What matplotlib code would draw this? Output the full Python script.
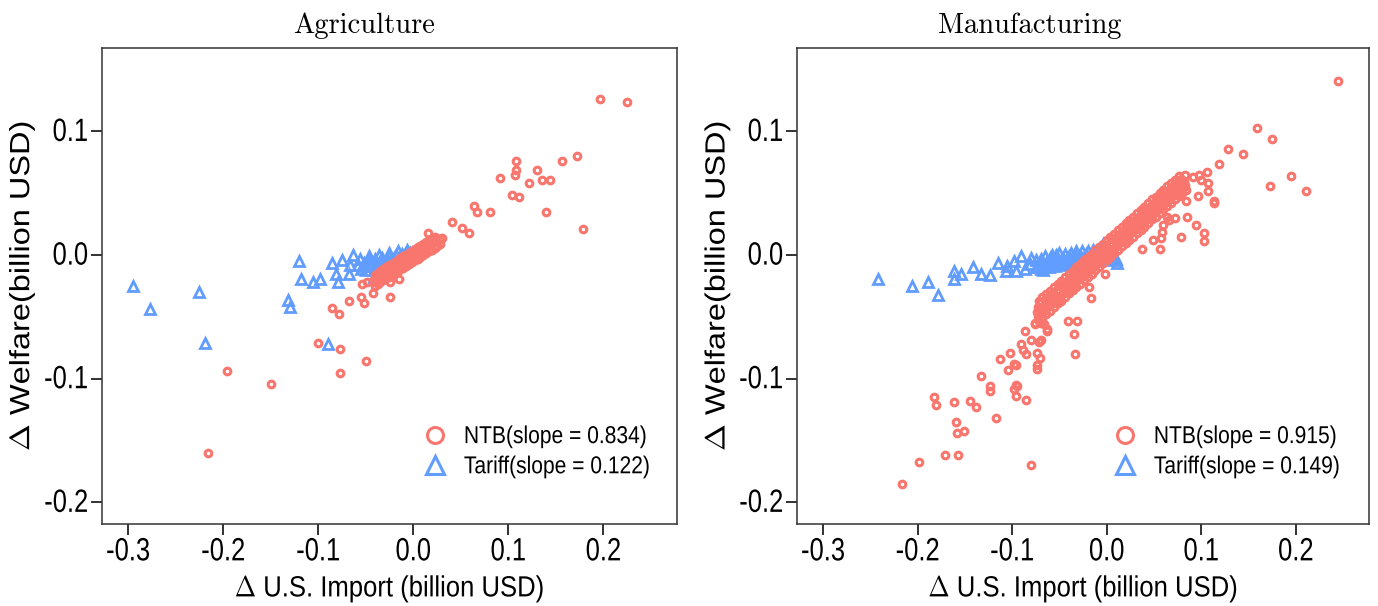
import numpy as np
import matplotlib
matplotlib.use("Agg")
import matplotlib.pyplot as plt
from matplotlib.lines import Line2D
from matplotlib.patheffects import AbstractPathEffect
from matplotlib.transforms import Affine2D

plt.rcParams['mathtext.fontset'] = 'cm'

RED = '#F8766D'
BLUE = '#619CFF'
SANS = ['Liberation Sans', 'DejaVu Sans']


class Squeeze(AbstractPathEffect):
    """Draw a text path narrower/wider (sx) or flatter/taller (sy), keeping one side fixed."""

    def __init__(self, sx=1.0, sy=1.0, anchor='center'):
        super().__init__()
        self.sx, self.sy, self.anchor = sx, sy, anchor

    def draw_path(self, renderer, gc, tpath, affine, rgbFace=None):
        v = tpath.vertices
        x0, x1 = (v[:, 0].min(), v[:, 0].max()) if len(v) else (0, 0)
        ref = {'left': x0, 'center': 0.5 * (x0 + x1), 'right': x1}[self.anchor]
        pre = Affine2D().translate(-ref, 0).scale(self.sx, self.sy).translate(ref, 0)
        renderer.draw_path(gc, tpath, pre + affine, rgbFace)


# ---- Agriculture ----
agri_ntb = [
    (0.197, 0.126), (0.225, 0.124), (0.172, 0.080), (0.157, 0.076), (0.108, 0.076),
    (0.108, 0.069), (0.107, 0.065), (0.130, 0.069), (0.135, 0.061), (0.144, 0.061),
    (0.122, 0.058), (0.091, 0.062), (0.104, 0.049), (0.111, 0.047), (0.140, 0.035),
    (0.179, 0.021), (0.081, 0.035), (0.064, 0.040), (0.067, 0.035), (0.041, 0.027),
    (0.051, 0.022), (0.059, 0.018), (0.015, 0.018),
    (-0.196, -0.094), (-0.150, -0.104), (-0.216, -0.160),
    (-0.100, -0.071), (-0.077, -0.076), (-0.077, -0.095), (-0.050, -0.086),
    (-0.086, -0.043), (-0.078, -0.048), (-0.068, -0.037),
    (-0.055, -0.034), (-0.052, -0.039), (-0.054, -0.023), (-0.049, -0.022),
    (-0.042, -0.031), (-0.024, -0.022), (-0.024, -0.034), (-0.015, -0.019),
    # band through the origin
    (-0.042, -0.021), (-0.039, -0.019), (-0.036, -0.018), (-0.033, -0.017), (-0.030, -0.015),
    (-0.027, -0.014), (-0.024, -0.012), (-0.021, -0.011), (-0.018, -0.009), (-0.015, -0.008),
    (-0.012, -0.006), (-0.009, -0.005), (-0.006, -0.003), (-0.003, -0.002), (0.000, -0.001),
    (0.003, 0.001), (0.006, 0.002), (0.009, 0.004), (0.012, 0.005), (0.015, 0.007),
    (0.018, 0.008), (0.021, 0.010), (0.024, 0.011), (0.027, 0.013), (0.030, 0.014),
    (-0.0405, -0.0157), (-0.0375, -0.0142), (-0.0345, -0.0128), (-0.0315, -0.0113),
    (-0.0285, -0.0099), (-0.0255, -0.0084), (-0.0225, -0.0069), (-0.0195, -0.0055),
    (-0.0165, -0.0040), (-0.0135, -0.0026), (-0.0105, -0.0011), (-0.0075, 0.0003),
    (-0.0045, 0.0018), (-0.0015, 0.0032), (0.0015, 0.0047), (0.0045, 0.0062),
    (0.0075, 0.0076), (0.0105, 0.0091), (0.0135, 0.0105), (0.0165, 0.0120),
    (0.0195, 0.0134), (0.0225, 0.0149),
    (-0.0405, -0.0247), (-0.0375, -0.0232), (-0.0345, -0.0218), (-0.0315, -0.0203),
    (-0.0285, -0.0189), (-0.0255, -0.0174), (-0.0225, -0.0159), (-0.0195, -0.0145),
    (-0.0165, -0.0130), (-0.0135, -0.0116), (-0.0105, -0.0101), (-0.0075, -0.0087),
    (-0.0045, -0.0072), (-0.0015, -0.0057), (0.0015, -0.0043), (0.0045, -0.0028),
    (0.0075, -0.0014), (0.0105, 0.0001), (0.0135, 0.0015), (0.0165, 0.0030),
    (0.0195, 0.0044), (0.0225, 0.0059), (0.0255, 0.0073), (0.0285, 0.0088),
]

agri_tariff = [
    (-0.295, -0.025), (-0.277, -0.044), (-0.225, -0.030), (-0.219, -0.071),
    (-0.132, -0.036), (-0.130, -0.042), (-0.120, -0.005), (-0.118, -0.019),
    (-0.105, -0.022), (-0.098, -0.019), (-0.090, -0.072),
    (-0.085, -0.006), (-0.075, -0.004), (-0.063, 0.000), (-0.067, -0.008),
    (-0.081, -0.015), (-0.079, -0.022), (-0.068, -0.015), (-0.056, -0.003),
    (-0.046, -0.003), (-0.036, 0.000), (-0.053, -0.009), (-0.041, -0.018),
    # band left of the origin
    (-0.058, -0.008), (-0.055, -0.011), (-0.052, -0.006), (-0.050, -0.012), (-0.048, -0.004),
    (-0.045, -0.009), (-0.043, -0.006), (-0.040, -0.003), (-0.038, -0.008), (-0.035, -0.005),
    (-0.033, -0.002), (-0.030, -0.006), (-0.028, -0.003), (-0.025, -0.001), (-0.023, -0.004),
    (-0.020, -0.002), (-0.018, 0.000), (-0.015, -0.002), (-0.012, 0.001), (-0.010, -0.001),
    (-0.008, 0.002), (-0.005, 0.000), (-0.003, 0.002), (-0.001, 0.001), (-0.040, -0.012),
    (-0.030, -0.010), (-0.026, 0.002), (-0.016, 0.003), (-0.007, 0.004), (-0.047, -0.001),
]

# ---- Manufacturing ----
manu_ntb = [
    (0.245, 0.141), (0.159, 0.103), (0.175, 0.094), (0.128, 0.086), (0.144, 0.082),
    (0.119, 0.074), (0.195, 0.064), (0.173, 0.056), (0.211, 0.052), (0.106, 0.067),
    (0.091, 0.063), (0.098, 0.065), (0.100, 0.061), (0.107, 0.058), (0.097, 0.048),
    (0.107, 0.052), (0.113, 0.044), (0.114, 0.042), (0.084, 0.044), (0.078, 0.050),
    (0.082, 0.055), (0.076, 0.058), (0.070, 0.050), (0.060, 0.047),
    (0.085, 0.031), (0.094, 0.024), (0.103, 0.018), (0.103, 0.011), (0.079, 0.015),
    (0.072, 0.030), (0.064, 0.031), (0.066, 0.028), (0.060, 0.024), (0.058, 0.019),
    (0.049, 0.012), (0.056, 0.005), (0.057, 0.014), (0.037, 0.005), (-0.002, -0.015),
    (-0.035, -0.064), (-0.033, -0.080), (-0.031, -0.053), (-0.041, -0.053),
    (-0.017, -0.035), (-0.019, -0.026),
    (-0.216, -0.185), (-0.199, -0.167), (-0.171, -0.162), (-0.157, -0.162), (-0.080, -0.170),
    (-0.159, -0.135), (-0.158, -0.144), (-0.151, -0.142), (-0.183, -0.115), (-0.181, -0.121),
    (-0.162, -0.119), (-0.145, -0.118), (-0.138, -0.123), (-0.117, -0.132), (-0.133, -0.098),
    (-0.123, -0.106), (-0.123, -0.110), (-0.096, -0.105), (-0.095, -0.106), (-0.098, -0.108),
    (-0.096, -0.114), (-0.085, -0.117), (-0.113, -0.084), (-0.104, -0.093), (-0.102, -0.079),
    (-0.098, -0.088), (-0.096, -0.089), (-0.091, -0.072), (-0.088, -0.077), (-0.085, -0.080),
    (-0.080, -0.069), (-0.086, -0.061), (-0.074, -0.079), (-0.070, -0.083), (-0.074, -0.089),
    (-0.074, -0.092), (-0.072, -0.070), (-0.069, -0.069), (-0.076, -0.055), (-0.069, -0.055),
    (-0.063, -0.060), (-0.066, -0.044), (-0.076, -0.056), (-0.066, -0.056), (-0.063, -0.061),
    # main band, centre row
    (-0.074, -0.046), (-0.070, -0.044), (-0.066, -0.041), (-0.062, -0.038), (-0.058, -0.036),
    (-0.054, -0.033), (-0.050, -0.030), (-0.046, -0.027), (-0.042, -0.025), (-0.038, -0.022),
    (-0.034, -0.019), (-0.030, -0.016), (-0.026, -0.014), (-0.022, -0.011), (-0.018, -0.008),
    (-0.014, -0.006), (-0.010, -0.003), (-0.006, 0.000), (-0.002, 0.003), (0.002, 0.005),
    (0.006, 0.008), (0.010, 0.011), (0.014, 0.014), (0.018, 0.016), (0.022, 0.019),
    (0.026, 0.022), (0.030, 0.024), (0.034, 0.027), (0.038, 0.030), (0.042, 0.033),
    (0.046, 0.035), (0.050, 0.038), (0.054, 0.041), (0.058, 0.043), (0.062, 0.046),
    (0.066, 0.049), (0.070, 0.052), (0.074, 0.054), (0.078, 0.057), (0.082, 0.060),
    # main band, upper rows
    (-0.072, -0.037), (-0.068, -0.034), (-0.064, -0.0315), (-0.060, -0.029), (-0.056, -0.026),
    (-0.052, -0.023), (-0.048, -0.021), (-0.044, -0.018), (-0.040, -0.015), (-0.036, -0.0125),
    (-0.032, -0.010), (-0.028, -0.007), (-0.024, -0.004), (-0.020, -0.0016), (-0.016, 0.001),
    (-0.012, 0.004), (-0.008, 0.0066), (-0.004, 0.009), (0.000, 0.012), (0.004, 0.0147),
    (0.008, 0.0174), (0.012, 0.020), (0.016, 0.023), (0.020, 0.0256), (0.024, 0.028),
    (0.028, 0.031), (0.032, 0.034), (0.036, 0.0365), (0.040, 0.039), (0.044, 0.042),
    (0.048, 0.045), (0.052, 0.047), (0.056, 0.050), (0.060, 0.053), (0.064, 0.0555),
    (0.068, 0.058), (0.072, 0.061), (0.076, 0.0637),
    (-0.073, -0.0416), (-0.069, -0.0389), (-0.065, -0.0362), (-0.061, -0.0335), (-0.057, -0.0308),
    (-0.053, -0.0280), (-0.049, -0.0253), (-0.045, -0.0226), (-0.041, -0.0199), (-0.037, -0.0172),
    (-0.033, -0.0144), (-0.029, -0.0117), (-0.025, -0.0090), (-0.021, -0.0063), (-0.017, -0.0036),
    (-0.013, -0.0008), (-0.009, 0.0019), (-0.005, 0.0046), (-0.001, 0.0073), (0.003, 0.0100),
    (0.007, 0.0128), (0.011, 0.0155), (0.015, 0.0182), (0.019, 0.0209), (0.023, 0.0236),
    (0.027, 0.0264), (0.031, 0.0291), (0.035, 0.0318), (0.039, 0.0345), (0.043, 0.0372),
    (0.047, 0.0400), (0.051, 0.0427), (0.055, 0.0454), (0.059, 0.0481), (0.063, 0.0508),
    (0.067, 0.0536), (0.071, 0.0563), (0.075, 0.0590), (0.079, 0.0617), (0.083, 0.0644),
    # main band, lower rows
    (-0.072, -0.053), (-0.068, -0.050), (-0.064, -0.0475), (-0.060, -0.045), (-0.056, -0.042),
    (-0.052, -0.039), (-0.048, -0.037), (-0.044, -0.034), (-0.040, -0.031), (-0.036, -0.0285),
    (-0.032, -0.026), (-0.028, -0.023), (-0.024, -0.020), (-0.020, -0.0176), (-0.016, -0.015),
    (-0.012, -0.012), (-0.008, -0.0094), (-0.004, -0.0067), (0.000, -0.004), (0.004, -0.0013),
    (0.008, 0.0014), (0.012, 0.004), (0.016, 0.007), (0.020, 0.0096), (0.024, 0.012),
    (0.028, 0.015), (0.032, 0.018), (0.036, 0.0205), (0.040, 0.023), (0.044, 0.026),
    (0.048, 0.029), (0.052, 0.031), (0.056, 0.034), (0.060, 0.037), (0.064, 0.0395),
    (0.068, 0.042), (0.072, 0.045), (0.076, 0.048), (0.080, 0.050), (0.084, 0.053),
    (-0.073, -0.0496), (-0.069, -0.0469), (-0.065, -0.0442), (-0.061, -0.0415), (-0.057, -0.0388),
    (-0.053, -0.0360), (-0.049, -0.0333), (-0.045, -0.0306), (-0.041, -0.0279), (-0.037, -0.0252),
    (-0.033, -0.0224), (-0.029, -0.0197), (-0.025, -0.0170), (-0.021, -0.0143), (-0.017, -0.0116),
    (-0.013, -0.0088), (-0.009, -0.0061), (-0.005, -0.0034), (-0.001, -0.0007), (0.003, 0.0020),
    (0.007, 0.0048), (0.011, 0.0075), (0.015, 0.0102), (0.019, 0.0129), (0.023, 0.0156),
    (0.027, 0.0184), (0.031, 0.0211), (0.035, 0.0238), (0.039, 0.0265), (0.043, 0.0292),
    (0.047, 0.0320), (0.051, 0.0347), (0.055, 0.0374), (0.059, 0.0401), (0.063, 0.0428),
    (0.067, 0.0456), (0.071, 0.0483), (0.075, 0.0510), (0.079, 0.0537), (0.083, 0.0564),
]

manu_tariff = [
    (-0.242, -0.019), (-0.206, -0.025), (-0.189, -0.022), (-0.178, -0.032),
    (-0.162, -0.013), (-0.162, -0.019), (-0.154, -0.015), (-0.141, -0.010),
    (-0.133, -0.015), (-0.123, -0.016), (-0.115, -0.006), (-0.107, -0.013),
    (-0.105, -0.009), (-0.098, -0.005), (-0.096, -0.013), (-0.091, -0.001),
    (-0.086, -0.011), (-0.081, -0.007), (-0.075, -0.010), (-0.069, -0.003),
    (-0.069, -0.011), (-0.063, -0.009), (-0.060, -0.002), (-0.054, 0.000),
    # band left of the origin
    (-0.070, -0.008), (-0.067, -0.012), (-0.064, -0.006), (-0.061, -0.010), (-0.058, -0.004),
    (-0.055, -0.009), (-0.052, -0.003), (-0.049, -0.008), (-0.046, -0.002), (-0.043, -0.007),
    (-0.040, -0.001), (-0.037, -0.006), (-0.034, 0.000), (-0.031, -0.005), (-0.028, 0.000),
    (-0.025, -0.004), (-0.022, 0.001), (-0.019, -0.003), (-0.016, 0.001), (-0.013, -0.003),
    (-0.010, 0.002), (-0.007, -0.002), (-0.004, 0.003), (-0.001, -0.001), (0.002, 0.001),
    (0.005, -0.002), (0.008, -0.004), (0.011, -0.006), (-0.004, 0.009), (0.001, 0.004),
    (-0.072, -0.010), (-0.066, -0.008), (-0.060, -0.007), (-0.054, -0.006), (-0.048, -0.005),
    (-0.042, -0.004), (-0.036, -0.003), (-0.030, -0.003), (-0.024, -0.002), (-0.018, -0.001),
    (-0.012, -0.001), (-0.006, 0.000), (0.000, 0.000), (0.006, -0.003), (0.010, -0.003),
    (-0.080, -0.002), (-0.075, -0.004), (-0.065, -0.001), (-0.058, 0.000), (-0.050, 0.002),
    (-0.044, 0.001), (-0.038, 0.002), (-0.032, 0.003), (-0.026, 0.003), (-0.020, 0.003),
    (-0.014, 0.004), (-0.008, 0.005),
]

panels = [
    ("Agriculture", agri_ntb, agri_tariff, "0.834", "0.122"),
    ("Manufacturing", manu_ntb, manu_tariff, "0.915", "0.149"),
]

fig = plt.figure(figsize=(13.78, 6.06), dpi=100)
positions = [[0.074, 0.1353, 0.4173, 0.7855], [0.5784, 0.1353, 0.4151, 0.7855]]
title_x = [0.455, 0.407]
legend_x = [0.558, 0.552]

for i, (title, ntb, tariff, s_ntb, s_tar) in enumerate(panels):
    ax = fig.add_axes(positions[i])
    ntb = np.array(ntb)
    tariff = np.array(tariff)
    ax.plot(tariff[:, 0], tariff[:, 1], '^', ls='none', ms=7.0, mew=2.0,
            mfc='none', mec=BLUE, zorder=2)
    ax.plot(ntb[:, 0], ntb[:, 1], 'o', ls='none', ms=4.8, mew=2.2,
            mfc='none', mec=RED, zorder=3)

    ax.set_xlim(-0.3275, 0.2775)
    ax.set_ylim(-0.2175, 0.1675)
    ax.set_xticks([-0.3, -0.2, -0.1, 0.0, 0.1, 0.2])
    ax.set_yticks([-0.2, -0.1, 0.0, 0.1])
    ax.set_xticklabels(['-0.3', '-0.2', '-0.1', '0.0', '0.1', '0.2'])
    ax.set_yticklabels(['-0.2', '-0.1', '0.0', '0.1'])
    ax.tick_params(direction='out', length=8, width=1.3, color='#222222')
    ax.tick_params(axis='x', pad=4.5)
    ax.tick_params(axis='y', pad=2)
    # narrow, tall digits
    for lab in ax.get_xticklabels():
        lab.set_family(SANS)
        lab.set_fontsize(18.4)
        lab.set_path_effects([Squeeze(sy=1.26, anchor='center')])
    for lab in ax.get_yticklabels():
        lab.set_family(SANS)
        lab.set_fontsize(18.4)
        lab.set_path_effects([Squeeze(sy=1.26, anchor='right')])
    for sp in ax.spines.values():
        sp.set_linewidth(1.1)
        sp.set_color('#333333')

    ax.set_title(title, family='cmr10', fontsize=20.5, pad=11, x=title_x[i])

    xl = ax.set_xlabel(r'$\Delta$ U.S. Import (billion USD)', family=SANS, fontsize=21)
    xl.set_path_effects([Squeeze(sx=0.88, anchor='center')])
    ax.xaxis.set_label_coords(0.5, -0.102)

    yl = ax.set_ylabel(r'$\Delta$ Welfare(billion USD)', family=SANS, fontsize=20)
    yl.set_path_effects([Squeeze(sx=1.17, anchor='center')])
    ax.yaxis.set_label_coords(-0.1125, 0.5)

    handles = [
        Line2D([], [], marker='o', ls='none', ms=11.5, mew=2.2, mfc='none', mec=RED),
        Line2D([], [], marker='^', ls='none', ms=13, mew=2.2, mfc='none', mec=BLUE),
    ]
    leg = ax.legend(handles, [f'NTB(slope = {s_ntb})', f'Tariff(slope = {s_tar})'],
                    loc='center left', bbox_to_anchor=(legend_x[i], 0.151),
                    frameon=False, prop={'family': SANS, 'size': 17.6},
                    borderpad=0, borderaxespad=0, handlelength=1.0,
                    handletextpad=0.68, labelspacing=0.33)
    for t in leg.get_texts():
        t.set_path_effects([Squeeze(sx=0.86, anchor='left')])

fig.savefig('out.png', dpi=100)
